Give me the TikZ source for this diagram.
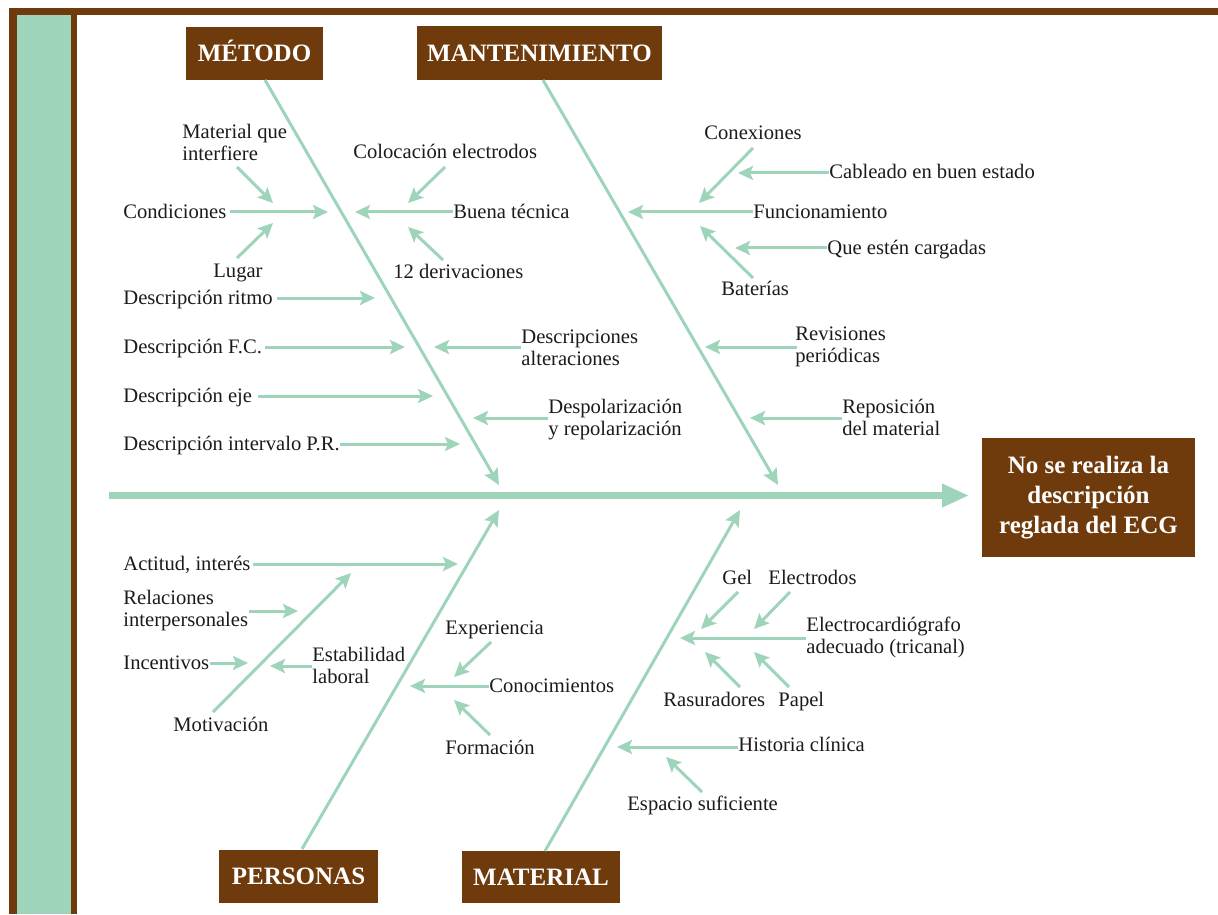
\documentclass[tikz,border=0pt]{standalone}
\usepackage{fontspec}
\setmainfont{Liberation Serif}
\usetikzlibrary{arrows.meta}
\definecolor{fbrown}{HTML}{6F3A0C}
\definecolor{fgreen}{HTML}{9DD4BA}
\definecolor{ftext}{HTML}{1C1A1A}
\begin{document}
\begin{tikzpicture}[x=0.5pt,y=-0.5pt,
 lbl/.style={inner sep=0pt, text=ftext, font=\fontsize{10.3}{11}\selectfont, align=left, yshift=-0.9pt},
 ttl/.style={fill=fbrown, text=white, inner sep=0pt, font=\bfseries\fontsize{12.5}{15}\selectfont, align=center},
 cat/.style={ttl, text height=8.3pt, text depth=0pt},
 br/.style={draw=fgreen, line width=1.5pt, -{Stealth[length=7.5pt,width=7pt,inset=1.5pt]}},
 bone/.style={draw=fgreen, line width=1.5pt, -{Stealth[length=8pt,width=7.5pt,inset=1.5pt]}},
 spine/.style={draw=fgreen, line width=3.5pt, -{Triangle[length=13.5pt,width=11pt]}}]
\useasboundingbox (0,0) rectangle (1218,914);
% frame
\fill[fbrown] (9,8) rectangle (1218,15);
\fill[fbrown] (9,8) rectangle (17,914);
\fill[fgreen] (17,15) rectangle (71,914);
\fill[fbrown] (71,15) rectangle (77,914);

% title boxes
\node[cat, minimum width=68.5pt, minimum height=26.5pt] (met) at (254.5,53.5) {MÉTODO};
\node[cat, minimum width=122.5pt, minimum height=27pt] (man) at (539.5,53) {MANTENIMIENTO};
\node[cat, minimum width=79.5pt, minimum height=26.5pt] (per) at (298.5,876.5) {PERSONAS};
\node[cat, minimum width=79pt, minimum height=26pt] (mat) at (541,877) {MATERIAL};
\node[ttl, minimum width=106.5pt, minimum height=59.5pt] (eff) at (1088.5,497.5) {No se realiza la\\descripción\\reglada del ECG};

% spine
\coordinate (sp0) at (109,495.5);
\coordinate (sp1) at (969,495.5);
\draw[spine] (sp0) -- (sp1);

% bones
\coordinate (metS) at (265,80);   \coordinate (metT) at (499,485);
\coordinate (manS) at (543,80);   \coordinate (manT) at (778,485);
\coordinate (perS) at (302,849);  \coordinate (perT) at (499,510);
\coordinate (matS) at (545,851);  \coordinate (matT) at (740,510);
\draw[bone] (metS) -- (metT);
\draw[bone] (manS) -- (manT);
\draw[bone] (perS) -- (perT);
\draw[bone] (matS) -- (matT);

% ---------- MÉTODO ----------
\node[lbl, anchor=mid west] (cond) at (123,212) {Condiciones};
\node[lbl, anchor=west] (matint) at (182,141) {Material que\\interfiere};
\node[lbl, anchor=mid west] (lugar) at (213,271) {Lugar};
\node[lbl, anchor=mid west] (colo) at (353,152) {Colocación electrodos};
\node[lbl, anchor=mid west] (buena) at (453,212) {Buena técnica};
\node[lbl, anchor=mid west] (der) at (393,272) {12 derivaciones};
\node[lbl, anchor=mid west] (ritmo) at (123,298) {Descripción ritmo};
\node[lbl, anchor=mid west] (fc) at (123,347) {Descripción F.C.};
\node[lbl, anchor=mid west] (eje) at (123,396) {Descripción eje};
\node[lbl, anchor=mid west] (pr) at (123,444) {Descripción intervalo P.R.};
\node[lbl, anchor=west] (alt) at (521,346) {Descripciones\\alteraciones};
\node[lbl, anchor=west] (despol) at (548,418) {Despolarización\\y repolarización};

\coordinate (cond0) at (230,212); \coordinate (cond1) at (328,212);
\coordinate (mi0) at (237,167);   \coordinate (mi1) at (273,203);
\coordinate (lu0) at (237,258);   \coordinate (lu1) at (273,223);
\coordinate (co0) at (445,167);   \coordinate (co1) at (408,203);
\coordinate (bu0) at (453,212);   \coordinate (bu1) at (355,212);
\coordinate (de0) at (443,260);   \coordinate (de1) at (408,227);
\coordinate (ri0) at (277,298);   \coordinate (ri1) at (375,298);
\coordinate (fc0) at (265,347);   \coordinate (fc1) at (405,347);
\coordinate (ej0) at (258,396);   \coordinate (ej1) at (433,396);
\coordinate (pr0) at (340,444);   \coordinate (pr1) at (460,444);
\coordinate (al0) at (521,347);   \coordinate (al1) at (434,347);
\coordinate (dp0) at (548,418);   \coordinate (dp1) at (473,418);
\draw[br] (cond0) -- (cond1);
\draw[br] (mi0) -- (mi1);
\draw[br] (lu0) -- (lu1);
\draw[br] (co0) -- (co1);
\draw[br] (bu0) -- (bu1);
\draw[br] (de0) -- (de1);
\draw[br] (ri0) -- (ri1);
\draw[br] (fc0) -- (fc1);
\draw[br] (ej0) -- (ej1);
\draw[br] (pr0) -- (pr1);
\draw[br] (al0) -- (al1);
\draw[br] (dp0) -- (dp1);

% ---------- MANTENIMIENTO ----------
\node[lbl, anchor=mid west] (func) at (753,212) {Funcionamiento};
\node[lbl, anchor=mid west] (conex) at (704,133) {Conexiones};
\node[lbl, anchor=mid west] (cable) at (829,172) {Cableado en buen estado};
\node[lbl, anchor=mid west] (carg) at (827,248) {Que estén cargadas};
\node[lbl, anchor=mid west] (bat) at (721,289) {Baterías};
\node[lbl, anchor=west] (rev) at (795,345) {Revisiones\\periódicas};
\node[lbl, anchor=west] (repo) at (842,416) {Reposición\\del material};

\coordinate (fu0) at (753,212);   \coordinate (fu1) at (628,212);
\coordinate (cx0) at (753,148);   \coordinate (cx1) at (699,203);
\coordinate (ca0) at (829,173);   \coordinate (ca1) at (738,173);
\coordinate (cg0) at (827,248);   \coordinate (cg1) at (735,248);
\coordinate (ba0) at (753,278);   \coordinate (ba1) at (700,226);
\coordinate (re0) at (797,347);   \coordinate (re1) at (705,347);
\coordinate (rp0) at (842,418);   \coordinate (rp1) at (750,418);
\draw[br] (fu0) -- (fu1);
\draw[br] (cx0) -- (cx1);
\draw[br] (ca0) -- (ca1);
\draw[br] (cg0) -- (cg1);
\draw[br] (ba0) -- (ba1);
\draw[br] (re0) -- (re1);
\draw[br] (rp0) -- (rp1);

% ---------- PERSONAS ----------
\node[lbl, anchor=mid west] (act) at (123,564) {Actitud, interés};
\node[lbl, anchor=west] (rel) at (123,609) {Relaciones\\interpersonales};
\node[lbl, anchor=mid west] (inc) at (123,663) {Incentivos};
\node[lbl, anchor=west] (estab) at (312,664) {Estabilidad\\laboral};
\node[lbl, anchor=mid west] (motiv) at (173,725) {Motivación};
\node[lbl, anchor=mid west] (exper) at (445,628) {Experiencia};
\node[lbl, anchor=mid west] (conoc) at (489,686) {Conocimientos};
\node[lbl, anchor=mid west] (form) at (445,748) {Formación};

\coordinate (ac0) at (253,564);   \coordinate (ac1) at (458,564);
\coordinate (rl0) at (249,611);   \coordinate (rl1) at (298,611);
\coordinate (in0) at (210,663);   \coordinate (in1) at (248,663);
\coordinate (es0) at (312,666);   \coordinate (es1) at (270,666);
\coordinate (mo0) at (213,712);   \coordinate (mo1) at (351,573);
\coordinate (ex0) at (491,642);   \coordinate (ex1) at (454,677);
\coordinate (cn0) at (489,686);   \coordinate (cn1) at (410,686);
\coordinate (fo0) at (490,735);   \coordinate (fo1) at (454,700);
\draw[br] (ac0) -- (ac1);
\draw[br] (rl0) -- (rl1);
\draw[br] (in0) -- (in1);
\draw[br] (es0) -- (es1);
\draw[br] (mo0) -- (mo1);
\draw[br] (ex0) -- (ex1);
\draw[br] (cn0) -- (cn1);
\draw[br] (fo0) -- (fo1);

% ---------- MATERIAL ----------
\node[lbl, anchor=west] (ecg) at (806,636) {Electrocardiógrafo\\adecuado (tricanal)};
\node[lbl, anchor=mid west] (gel) at (722,578) {Gel};
\node[lbl, anchor=mid west] (elec) at (768,578) {Electrodos};
\node[lbl, anchor=mid west] (ras) at (663,700) {Rasuradores};
\node[lbl, anchor=mid west] (pap) at (778,700) {Papel};
\node[lbl, anchor=mid west] (hist) at (738,745) {Historia clínica};
\node[lbl, anchor=mid west] (esp) at (627,804) {Espacio suficiente};

\coordinate (ec0) at (806,638);   \coordinate (ec1) at (680,638);
\coordinate (ge0) at (738,592);   \coordinate (ge1) at (701,629);
\coordinate (el0) at (790,592);   \coordinate (el1) at (754,629);
\coordinate (ra0) at (740,687);   \coordinate (ra1) at (705,652);
\coordinate (pa0) at (789,687);   \coordinate (pa1) at (754,652);
\coordinate (hi0) at (738,747);   \coordinate (hi1) at (617,747);
\coordinate (sp2) at (702,792);   \coordinate (sp3) at (666,757);
\draw[br] (ec0) -- (ec1);
\draw[br] (ge0) -- (ge1);
\draw[br] (el0) -- (el1);
\draw[br] (ra0) -- (ra1);
\draw[br] (pa0) -- (pa1);
\draw[br] (hi0) -- (hi1);
\draw[br] (sp2) -- (sp3);
\end{tikzpicture}
\end{document}
